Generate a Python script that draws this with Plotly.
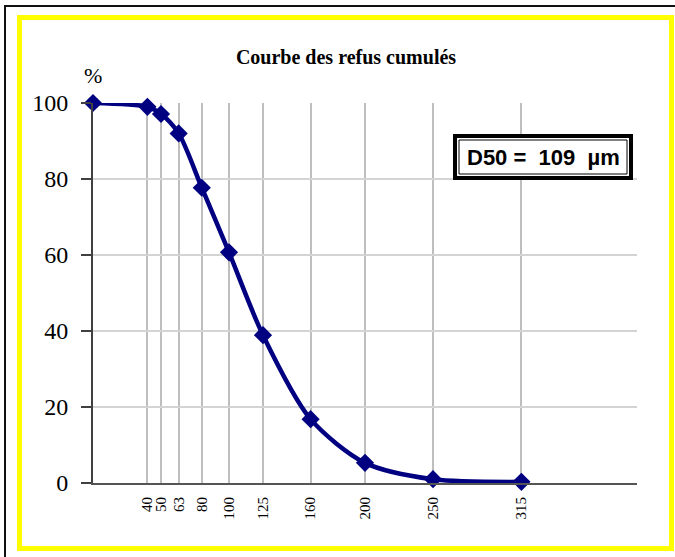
import plotly.graph_objects as go

# Data
sizes = [0, 40, 50, 63, 80, 100, 125, 160, 200, 250, 315]
refus = [100, 99.0, 97.1, 92.0, 77.7, 60.7, 38.9, 16.8, 5.3, 1.0, 0.3]
tick_vals = [40, 50, 63, 80, 100, 125, 160, 200, 250, 315]
tick_text = [str(v) for v in tick_vals]
title_text = "Courbe des refus cumulés"
d50_text = "D50 =  109  µm"

W, H = 675, 557
L, R, T, B = 93, 38, 103, 74
PW, PH = W - L - R, H - T - B


def px(x):
    return (x - L) / PW


def py(y):
    return (H - B - y) / PH


fig = go.Figure()
fig.add_trace(go.Scatter(
    x=sizes, y=refus, mode="lines+markers",
    line=dict(color="#000080", width=4.5, shape="spline", smoothing=0.8),
    marker=dict(symbol="diamond", size=14, color="#000080"),
    cliponaxis=False, showlegend=False, hoverinfo="skip",
))

shapes = [
    # outer black frame
    dict(type="rect", xref="paper", yref="paper", x0=px(5), x1=px(677), y0=py(6), y1=py(560),
         line=dict(color="#101010", width=2), layer="below"),
    # yellow frame
    dict(type="rect", xref="paper", yref="paper", x0=px(19.5), x1=px(671.5), y0=py(17.5), y1=py(548.5),
         line=dict(color="#FFFF00", width=5), layer="below"),
    # D50 box
    dict(type="rect", xref="paper", yref="paper", x0=px(455), x1=px(631), y0=py(136), y1=py(178),
         line=dict(color="black", width=4), fillcolor="white", layer="above"),
    dict(type="rect", xref="paper", yref="paper", x0=px(459), x1=px(627), y0=py(140), y1=py(174),
         line=dict(color="black", width=1), layer="above"),
]

annotations = [
    dict(text=d50_text, xref="paper", yref="paper", x=px(543), y=py(157), showarrow=False,
         font=dict(family="Liberation Sans", size=22, color="black", weight="bold"),
         xanchor="center", yanchor="middle"),
    dict(text="%", xref="paper", yref="paper", x=px(93), y=py(75), showarrow=False,
         font=dict(family="Liberation Serif", size=22, color="black"),
         xanchor="center", yanchor="middle"),
]

fig.update_layout(
    width=W, height=H,
    margin=dict(l=L, r=R, t=T, b=B),
    paper_bgcolor="white", plot_bgcolor="white",
    title=dict(text="<b>" + title_text + "</b>", x=346 / W, xref="container", y=1 - 57 / H,
               yref="container", xanchor="center", yanchor="middle",
               font=dict(family="Liberation Serif", size=20, color="black")),
    shapes=shapes, annotations=annotations,
    xaxis=dict(range=[0, 400], tickvals=tick_vals, ticktext=tick_text, tickangle=-90,
               showgrid=True, gridcolor="#bebebe", gridwidth=2, zeroline=False,
               showline=True, linecolor="#555555", linewidth=2, ticks="",
               ticklabelstandoff=6,
               tickfont=dict(family="Liberation Serif", size=15, color="black")),
    yaxis=dict(range=[0, 100], tickvals=[0, 20, 40, 60, 80, 100],
               showgrid=True, gridcolor="#d4d4d4", gridwidth=1.5, zeroline=False,
               showline=True, linecolor="#404040", linewidth=2,
               ticks="outside", ticklen=10, tickwidth=2, tickcolor="#404040",
               ticklabelstandoff=8,
               tickfont=dict(family="Liberation Serif", size=24, color="black")),
)

fig.write_html("out.html", config={"displayModeBar": False},
               post_script="document.body.style.margin='0';document.body.style.overflow='hidden';")
